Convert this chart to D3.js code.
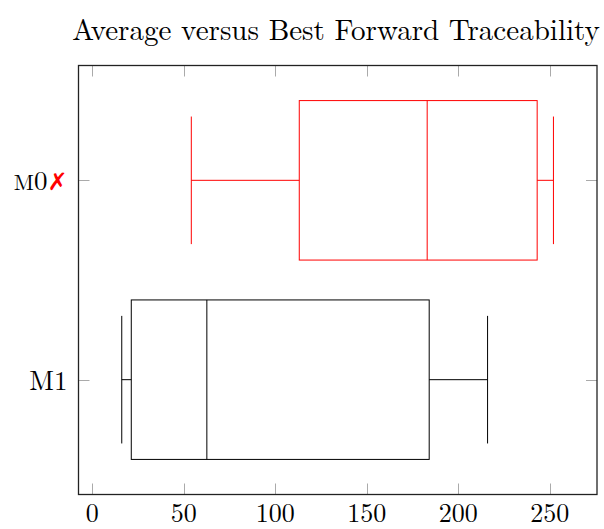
<!DOCTYPE html>
<html>
<head>
<meta charset="utf-8">
<script src="https://cdn.jsdelivr.net/npm/d3@7"></script>
<style>
  body { margin: 0; background: #fff; }
  text { font-family: 'Latin Modern Roman', 'CMU Serif', 'Liberation Serif', serif; }
</style>
</head>
<body>
<div id="chart"></div>
<script>
// data
const categories = ['M0', 'M1'];
const lowerWhisker = [54.1, 16.1];
const lowerQuartile = [113.1, 21.3];
const median = [183.0, 62.6];
const upperQuartile = [243.1, 184.1];
const upperWhisker = [252.0, 216.0];
const boxColors = ['#ff0000', '#000000'];
const xTicks = [0, 50, 100, 150, 200, 250];
const title = 'Average versus Best Forward Traceability';

const width = 604, height = 529;
const frame = { left: 78.5, right: 597, top: 65.5, bottom: 494.5 };

const svg = d3.select('#chart').append('svg')
  .attr('width', width)
  .attr('height', height);

const x = d3.scaleLinear().domain([-7.54, 275.8]).range([frame.left, frame.right]);
// category positions: M1 at 1, M0 at 2
const y = d3.scaleLinear().domain([0.424, 2.576]).range([frame.bottom, frame.top]);
const pos = i => categories.length - i;

const boxHalf = 0.4, capHalf = 0.32;

// ticks (inside, mirrored)
const tickLen = 11;
const ticks = svg.append('g').attr('stroke', '#aaa').attr('stroke-width', 1);
xTicks.forEach(t => {
  const px = Math.round(x(t)) + 0.5;
  ticks.append('line').attr('x1', px).attr('x2', px).attr('y1', frame.bottom).attr('y2', frame.bottom - tickLen);
  ticks.append('line').attr('x1', px).attr('x2', px).attr('y1', frame.top).attr('y2', frame.top + tickLen);
});
categories.forEach((c, i) => {
  const py = Math.round(y(pos(i))) + 0.5;
  ticks.append('line').attr('x1', frame.left).attr('x2', frame.left + tickLen).attr('y1', py).attr('y2', py);
  ticks.append('line').attr('x1', frame.right).attr('x2', frame.right - tickLen).attr('y1', py).attr('y2', py);
});

// boxes
const boxes = svg.append('g').attr('fill', 'none').attr('stroke-width', 1);
categories.forEach((c, i) => {
  const g = boxes.append('g').attr('stroke', boxColors[i]);
  const yc = y(pos(i));
  const yTop = y(pos(i) + boxHalf), yBot = y(pos(i) - boxHalf);
  const capTop = y(pos(i) + capHalf), capBot = y(pos(i) - capHalf);
  g.append('rect')
    .attr('x', x(lowerQuartile[i]))
    .attr('y', yTop)
    .attr('width', x(upperQuartile[i]) - x(lowerQuartile[i]))
    .attr('height', yBot - yTop);
  g.append('line').attr('x1', x(median[i])).attr('x2', x(median[i])).attr('y1', yTop).attr('y2', yBot);
  g.append('line').attr('x1', x(lowerWhisker[i])).attr('x2', x(lowerQuartile[i])).attr('y1', yc).attr('y2', yc);
  g.append('line').attr('x1', x(upperQuartile[i])).attr('x2', x(upperWhisker[i])).attr('y1', yc).attr('y2', yc);
  g.append('line').attr('x1', x(lowerWhisker[i])).attr('x2', x(lowerWhisker[i])).attr('y1', capTop).attr('y2', capBot);
  g.append('line').attr('x1', x(upperWhisker[i])).attr('x2', x(upperWhisker[i])).attr('y1', capTop).attr('y2', capBot);
});

// frame
svg.append('rect')
  .attr('x', frame.left).attr('y', frame.top)
  .attr('width', frame.right - frame.left).attr('height', frame.bottom - frame.top)
  .attr('fill', 'none').attr('stroke', '#222').attr('stroke-width', 1.3);

// x tick labels
svg.append('g').selectAll('text').data(xTicks).join('text')
  .attr('x', d => x(d))
  .attr('y', 522)
  .attr('text-anchor', 'middle')
  .attr('font-size', 26)
  .text(d => d);

// y tick labels
const yLab = svg.append('g');
categories.forEach((c, i) => {
  const t = yLab.append('text')
    .attr('x', frame.left - 11)
    .attr('y', y(pos(i)) + 10)
    .attr('text-anchor', 'end')
    .attr('font-size', 27);
  if (c === 'M0') {
    t.append('tspan').attr('font-size', 22).text('M');
    t.append('tspan').text('0');
    t.append('tspan')
      .attr('fill', '#ff0000')
      .attr('font-weight', 'bold')
      .attr('font-size', 24)
      .style('font-family', "'DejaVu Sans', sans-serif")
      .text('\u2717');
  } else {
    t.text(c);
  }
});

// title, fitted to the reference width
const tt = svg.append('text')
  .attr('x', 336)
  .attr('y', 40)
  .attr('text-anchor', 'middle')
  .attr('font-size', 27)
  .text(title);
const w = tt.node().getComputedTextLength();
tt.attr('font-size', 27 * 528 / w);
</script>
</body>
</html>
